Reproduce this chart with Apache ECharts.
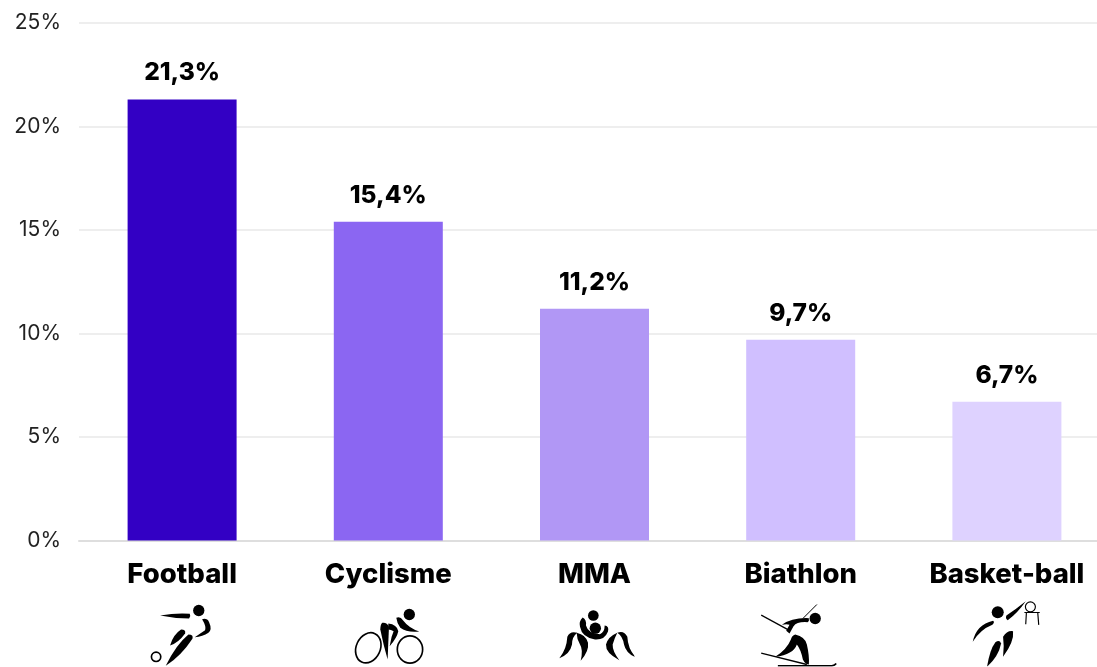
<!DOCTYPE html>
<html lang="fr">
<head>
    <meta charset="UTF-8">
    <title>Sports</title>
    <style>html,body{margin:0;padding:0;background:#fff;overflow:hidden}</style>
</head>
<body>
<div id="container" style="width:1097px;height:667px"></div>
<script src="https://cdn.jsdelivr.net/npm/echarts@6/dist/echarts.min.js"></script>
<script>
var categories = ['Football', 'Cyclisme', 'MMA', 'Biathlon', 'Basket-ball'];
var values = [21.3, 15.4, 11.2, 9.7, 6.7];
var barColors = ['#3300c4', '#8b66f2', '#b197f5', '#d0bfff', '#ded2ff'];
var yTicks = [0, 5, 10, 15, 20, 25];

// pictogrammes, en coordonnees "zoom" (1px = 3 unites)
var icons = {
    Football: {x: 123, body:
        '<circle cx="293" cy="183" r="17"/>' +
        '<path d="M177 198Q225 190 266 193Q270 200 264 207Q220 207 177 198Z"/>' +
        '<path d="M303 209Q318 205 324 218Q334 240 322 250Q305 262 281 263Q300 250 312 242Q316 230 303 209Z"/>' +
        '<path d="M207 288Q216 255 240 240Q255 240 252 252Q232 280 207 288Z"/>' +
        '<path d="M194 349Q225 285 262 255Q278 255 274 268Q240 320 194 349Z"/>' +
        '<circle cx="165" cy="322" r="14" fill="none" stroke="#000" stroke-width="5"/>'},
    Cyclisme: {x: 744, body:
        '<circle cx="927" cy="195" r="17"/>' +
        '<path d="M888 205Q900 200 908 212Q925 235 957 246Q920 250 900 235Q890 222 888 205Z"/>' +
        '<path d="M846 220Q860 218 866 232L862 330Q850 290 840 240Q840 225 846 220Z"/>' +
        '<path d="M864 222Q890 225 894 245Q890 265 868 290L874 262L880 245Q872 240 864 240Z"/>' +
        '<ellipse cx="804" cy="295" rx="36" ry="47" transform="rotate(25 804 295)" fill="none" stroke="#000" stroke-width="5"/>' +
        '<ellipse cx="929" cy="300" rx="38" ry="41" fill="none" stroke="#000" stroke-width="5"/>'},
    MMA: {x: 73.5, body:
        '<circle cx="190" cy="198" r="16"/><circle cx="196" cy="236" r="17"/>' +
        '<path d="M158 204Q170 210 168 228Q174 252 210 254Q224 248 224 228Q238 230 234 246Q224 272 195 270Q156 264 150 232Q146 215 158 204Z"/>' +
        '<path d="M88 326Q110 300 112 262Q120 243 142 250Q126 262 126 285Q120 314 88 326Z"/>' +
        '<path d="M140 250Q168 256 174 280Q178 305 152 334Q160 300 150 285Q140 268 140 250Z"/>' +
        '<path d="M318 324Q288 312 282 285Q278 260 262 250Q282 242 292 262Q294 300 318 324Z"/>' +
        '<path d="M262 250Q234 262 228 285Q226 310 268 332Q247 305 248 285Q254 265 262 250Z"/>'},
    Biathlon: {x: 691.5, body:
        '<circle cx="855" cy="207" r="17"/>' +
        '<path d="M860 165L818 207" stroke="#000" stroke-width="3"/>' +
        '<path d="M755 226Q785 204 836 206Q838 214 832 218Q800 216 790 230L778 252L768 244L778 226Q770 222 755 226Z"/>' +
        '<path d="M693 197L780 244" stroke="#000" stroke-width="4" fill="none"/>' +
        '<path d="M795 255Q825 262 830 285Q838 320 836 345Q825 345 818 330Q812 300 800 285Q790 315 735 322Q770 300 782 270Q785 258 795 255Z"/>' +
        '<path d="M693 311L830 345" stroke="#000" stroke-width="4" fill="none"/>' +
        '<path d="M743 349L905 349Q914 348 918 342" stroke="#000" stroke-width="5" fill="none"/>'},
    'Basket-ball': {x: 199.5, body:
        '<circle cx="292" cy="188" r="18"/>' +
        '<path d="M376 155Q352 190 322 212Q314 208 318 198Q345 180 376 155Z"/>' +
        '<path d="M217 277Q228 225 278 214Q284 218 276 226Q240 240 217 277Z"/>' +
        '<path d="M308 322Q312 290 308 262Q320 242 338 245Q342 275 308 322Z"/>' +
        '<path d="M260 352Q268 300 285 278Q298 270 302 282Q295 320 260 352Z"/>' +
        '<circle cx="390" cy="172" r="15" fill="none" stroke="#000" stroke-width="3.5"/>' +
        '<path d="M372 189H418M378 189L376 224M412 189L415 226" stroke="#000" stroke-width="3.5" fill="none"/>'}
};

function iconUri(name) {
    var ic = icons[name];
    var svg = '<svg xmlns="http://www.w3.org/2000/svg" width="80" height="67" viewBox="' + ic.x + ' 150 240 201">' + ic.body + '</svg>';
    return 'data:image/svg+xml;charset=utf-8,' + encodeURIComponent(svg);
}

var font = 'Inter';
var rich = {
    name: {fontFamily: font, fontWeight: 800, fontSize: 27.5, color: '#000', lineHeight: 28, padding: [0, 0, 21, 0]}
};
categories.forEach(function (c, i) {
    rich['icon' + i] = {width: 80, height: 67, backgroundColor: {image: iconUri(c)}};
});

var myChart = echarts.init(document.getElementById('container'), null, {renderer: 'canvas'});

var option = {
    animation: false,
    grid: {left: 79, width: 1031, top: 23, height: 517.5, outerBoundsMode: 'none'},
    xAxis: {
        type: 'category',
        data: categories,
        axisTick: {show: false},
        axisLine: {lineStyle: {color: '#dedede', width: 2}},
        axisLabel: {
            interval: 0,
            margin: 31,
            formatter: function (v, i) {
                return '{name|' + v + '}\n{icon' + i + '|}';
            },
            rich: rich
        }
    },
    yAxis: {
        type: 'value',
        min: yTicks[0],
        max: yTicks[yTicks.length - 1],
        interval: 5,
        axisLine: {show: false},
        axisTick: {show: false},
        splitLine: {lineStyle: {color: '#eeeeee', width: 2}},
        axisLabel: {
            margin: 18,
            fontFamily: font,
            fontSize: 21,
            color: '#222',
            formatter: '{value}%'
        }
    },
    series: [{
        type: 'bar',
        barWidth: 109,
        data: values.map(function (v, i) {
            return {value: v, itemStyle: {color: barColors[i]}};
        }),
        label: {
            show: true,
            position: 'top',
            distance: 14,
            fontFamily: font,
            fontWeight: 800,
            fontSize: 24.5,
            color: '#000',
            formatter: function (p) {
                return String(p.value).replace('.', ',') + '%';
            }
        }
    }]
};

myChart.setOption(option);
window.addEventListener('resize', myChart.resize);
</script>
</body>
</html>
